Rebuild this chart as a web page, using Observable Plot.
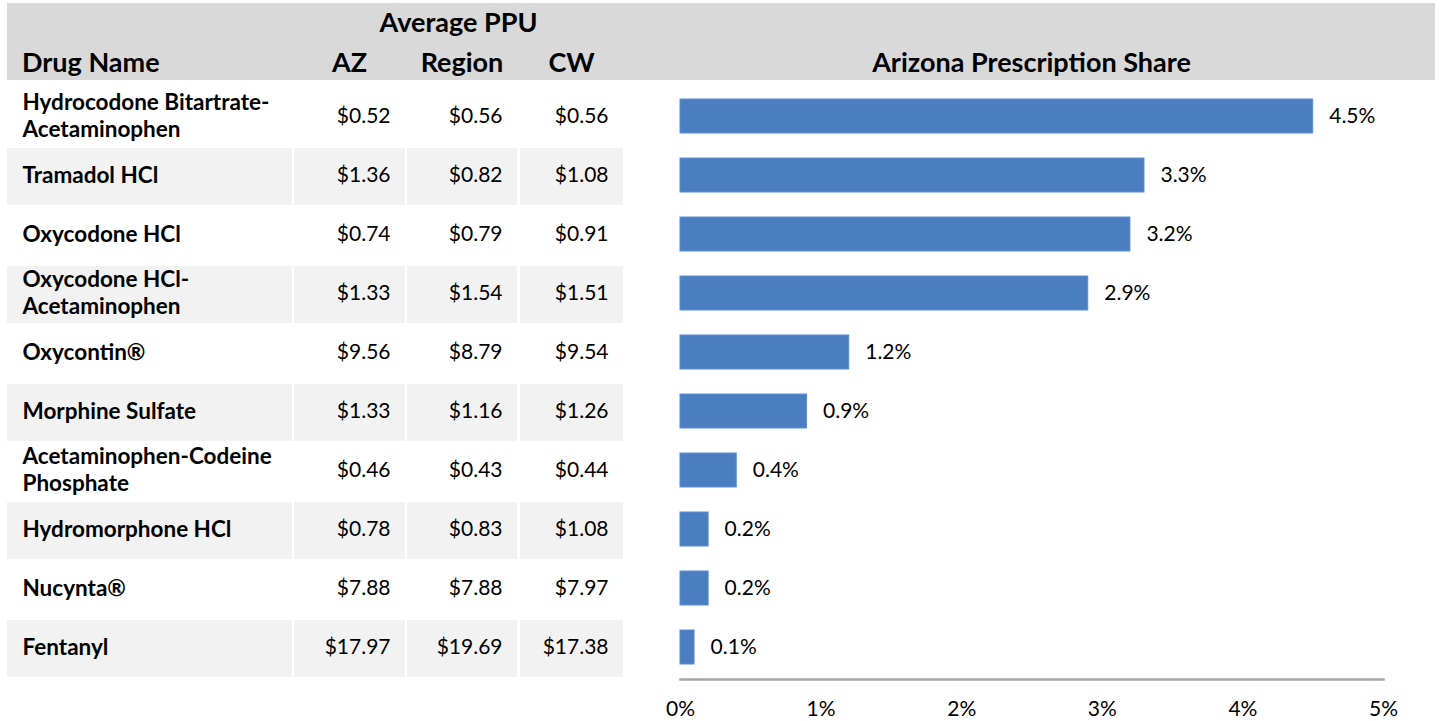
<!DOCTYPE html>
<html><head><meta charset="utf-8">
<script src="https://cdn.jsdelivr.net/npm/d3@7"></script>
<script src="https://cdn.jsdelivr.net/npm/@observablehq/plot@0.6"></script>
<style>
body{margin:0;background:#fff;}
#chart{position:relative;width:1440px;height:721px;font-family:Lato,"Open Sans",sans-serif;color:#000;overflow:hidden;background:#fff}
#band{position:absolute;left:7px;top:3px;width:1428px;height:77px;background:#D9D9D9}
.hdr{position:absolute;font-weight:700;font-size:27px;line-height:1;white-space:nowrap}
.abs{position:absolute;top:0}
</style></head><body><div id="chart"><div id="band"></div></div>
<script>
// ---- data ----
const drugs = [
  "Hydrocodone Bitartrate-Acetaminophen",
  "Tramadol HCl",
  "Oxycodone HCl",
  "Oxycodone HCl-Acetaminophen",
  "Oxycontin®",
  "Morphine Sulfate",
  "Acetaminophen-Codeine Phosphate",
  "Hydromorphone HCl",
  "Nucynta®",
  "Fentanyl"
];
const azPPU     = [0.52, 1.36, 0.74, 1.33, 9.56, 1.33, 0.46, 0.78, 7.88, 17.97];
const regionPPU = [0.56, 0.82, 0.79, 1.54, 8.79, 1.16, 0.43, 0.83, 7.88, 19.69];
const cwPPU     = [0.56, 1.08, 0.91, 1.51, 9.54, 1.26, 0.44, 1.08, 7.97, 17.38];
const azShare   = [4.5, 3.3, 3.2, 2.9, 1.2, 0.9, 0.4, 0.2, 0.2, 0.1];
const xTicks    = [0, 1, 2, 3, 4, 5];
const groupTitle = "Average PPU";
const chartTitle = "Arizona Prescription Share";
const columnTitles = ["Drug Name", "AZ", "Region", "CW"];

// ---- table built from the arrays ----
const rows = drugs.map((drug, i) => ({
  drug, idx: i, AZ: azPPU[i], Region: regionPPU[i], CW: cwPPU[i], share: azShare[i]
}));
// break long names after the hyphen/space where the reference wraps them
function wrapName(s) {
  if (s.length < 20) return s;
  const cut = Math.max(s.lastIndexOf("-", 24), s.lastIndexOf(" ", 24));
  return s[cut] === "-" ? s.slice(0, cut + 1) + "\n" + s.slice(cut + 1) : s.slice(0, cut) + "\n" + s.slice(cut + 1);
}
const money = v => "$" + v.toFixed(2);

// ---- layout ----
const W = 1440, H = 721, tableTop = 87, tableBottom = 679;
const font = 'Lato, "Open Sans", sans-serif';
const colLayout = [
  {key: "Drug Name", left: 7,   width: 285},
  {key: "AZ",        left: 294, width: 111},
  {key: "Region",    left: 407, width: 110},
  {key: "CW",        left: 520, width: 103}
];
const chart = document.getElementById("chart");

function place(el, left, top) {
  el.classList.add("abs");
  el.style.left = left + "px";
  el.style.top = top + "px";
  chart.appendChild(el);
}

colLayout.forEach((col, ci) => {
  const isName = ci === 0;
  const p = Plot.plot({
    width: col.width, height: H,
    marginTop: tableTop, marginBottom: H - tableBottom, marginLeft: 0, marginRight: 0,
    style: {background: "transparent", fontFamily: font, overflow: "visible"},
    y: {domain: drugs, axis: null, paddingInner: 0.035, paddingOuter: 0},
    marks: [
      Plot.cell(rows.filter(r => r.idx % 2 === 1), {y: "drug", fill: "#F2F2F2"}),
      Plot.text(rows, {
        y: "drug",
        text: isName ? r => wrapName(r.drug) : r => money(r[col.key]),
        frameAnchor: isName ? "left" : "right",
        textAnchor: isName ? "start" : "end",
        dx: isName ? 15 : -15,
        dy: -3,
        fontSize: isName ? 22.5 : 21,
        fontWeight: isName ? 700 : 400,
        lineHeight: 1.2,
        fill: "#000"
      })
    ]
  });
  place(p, col.left, 0);
});

// bar chart
const bars = Plot.plot({
  width: W, height: H,
  marginLeft: 680, marginRight: 57, marginTop: 83.5, marginBottom: H - 679,
  style: {background: "transparent", fontFamily: font, overflow: "visible"},
  x: {domain: [0, 5], axis: null},
  y: {domain: drugs, axis: null, paddingInner: 0.4275, paddingOuter: 0.227},
  marks: [
    Plot.barX(rows, {y: "drug", x: "share", fill: "#4A7EC0", stroke: "#5B8FD0", strokeWidth: 1}),
    Plot.text(rows, {y: "drug", x: "share", text: r => r.share.toFixed(1) + "%", dx: 16, textAnchor: "start", fontSize: 21, fill: "#000"}),
    Plot.frame({anchor: "bottom", stroke: "#A6A6A6", strokeWidth: 2.5}),
    Plot.axisX({ticks: xTicks, tickFormat: d => d + "%", tickSize: 0, tickPadding: 22, fontSize: 21, label: null, fill: "#000"})
  ]
});
place(bars, 0, 0);

// headers
function header(text, left, width, top, align) {
  const d = document.createElement("div");
  d.className = "hdr";
  d.textContent = text;
  d.style.left = left + "px";
  d.style.top = top + "px";
  d.style.width = width + "px";
  d.style.textAlign = align;
  chart.appendChild(d);
}
header(groupTitle, 294, 329, 8, "center");
header(columnTitles[0], 22, 260, 48, "left");
colLayout.slice(1).forEach((c, i) => header(columnTitles[i + 1], c.left, c.width, 48, "center"));
header(chartTitle, 680, 703, 48, "center");
</script></body></html>
